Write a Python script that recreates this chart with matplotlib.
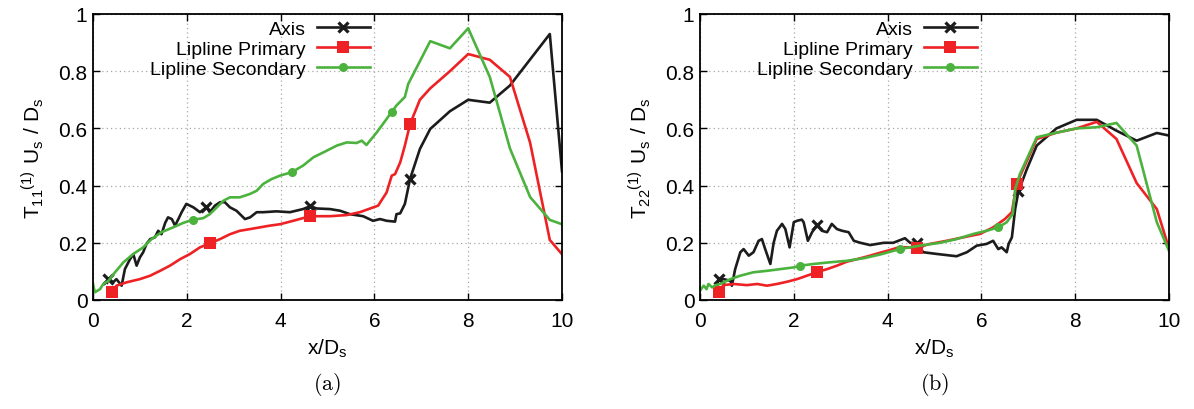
import numpy as np
import matplotlib
matplotlib.use('Agg')
import matplotlib.pyplot as plt
from matplotlib.lines import Line2D

plt.rcParams['font.family'] = ['Liberation Sans', 'DejaVu Sans']
plt.rcParams['font.size'] = 14

# ── data ─────────────────────────────────────────────────────────────────
# (a) T11
a_axis_x = [0.30, 0.33, 0.43, 0.50, 0.61, 0.68, 0.79, 0.86, 0.93, 1.00, 1.07, 1.14, 1.22, 1.32, 1.39,
            1.46, 1.54, 1.60, 1.68, 1.75, 1.82, 1.89, 1.99, 2.14, 2.28, 2.42, 2.49, 2.60, 2.71, 2.81,
            2.92, 3.06, 3.24, 3.35, 3.49, 3.63, 3.91, 4.20, 4.48, 4.63, 4.77, 5.05, 5.27, 5.48, 5.76,
            5.97, 6.12, 6.26, 6.44, 6.47, 6.55, 6.65, 6.76, 6.97, 7.19, 7.61, 8.00, 8.46, 8.89, 9.74, 10.0]
a_axis_y = [0.06, 0.075, 0.062, 0.073, 0.05, 0.108, 0.143, 0.16, 0.12, 0.149, 0.167, 0.196, 0.213, 0.219, 0.242,
            0.23, 0.27, 0.289, 0.283, 0.26, 0.283, 0.307, 0.336, 0.324, 0.307, 0.324, 0.307, 0.33, 0.342, 0.342,
            0.324, 0.312, 0.283, 0.289, 0.307, 0.307, 0.31, 0.307, 0.318, 0.328, 0.32, 0.318, 0.312, 0.30, 0.293,
            0.277, 0.283, 0.277, 0.274, 0.30, 0.303, 0.336, 0.423, 0.528, 0.598, 0.66, 0.70, 0.69, 0.75, 0.93, 0.45]

a_prim_x = [0.40, 0.50, 0.72, 1.00, 1.22, 1.43, 1.64, 1.86, 2.07, 2.28, 2.49, 2.71, 2.92, 3.13, 3.35,
            3.56, 3.77, 3.99, 4.27, 4.63, 5.05, 5.41, 5.69, 5.91, 6.08, 6.26, 6.37, 6.44, 6.55, 6.65,
            6.76, 6.97, 7.19, 7.61, 8.00, 8.46, 8.89, 9.32, 9.74, 10.0]
a_prim_y = [0.027, 0.05, 0.062, 0.073, 0.085, 0.102, 0.12, 0.143, 0.161, 0.184, 0.198, 0.213, 0.23, 0.242, 0.248,
            0.254, 0.26, 0.265, 0.277, 0.293, 0.293, 0.297, 0.307, 0.32, 0.33, 0.376, 0.435, 0.44, 0.481, 0.54,
            0.615, 0.70, 0.74, 0.80, 0.86, 0.84, 0.78, 0.55, 0.21, 0.16]

a_sec_x = [0.00, 0.04, 0.15, 0.22, 0.33, 0.47, 0.65, 0.86, 1.07, 1.25, 1.46, 1.71, 1.93, 2.14, 2.35,
           2.49, 2.64, 2.78, 2.92, 3.13, 3.35, 3.49, 3.63, 3.81, 3.99, 4.24, 4.48, 4.70, 4.91, 5.20,
           5.41, 5.62, 5.73, 5.83, 6.05, 6.26, 6.37, 6.47, 6.65, 6.72, 7.19, 7.61, 8.00, 8.46, 8.89,
           9.32, 9.74, 10.0]
a_sec_y = [0.056, 0.027, 0.038, 0.056, 0.067, 0.097, 0.132, 0.161, 0.184, 0.213, 0.237, 0.254, 0.27, 0.281, 0.286,
           0.30, 0.324, 0.347, 0.359, 0.359, 0.371, 0.382, 0.406, 0.423, 0.435, 0.447, 0.47, 0.499, 0.516, 0.54,
           0.551, 0.549, 0.557, 0.542, 0.586, 0.633, 0.658, 0.68, 0.71, 0.755, 0.905, 0.88, 0.95, 0.78, 0.53,
           0.36, 0.28, 0.265]

# (b) T22
b_axis_x = [0.36, 0.40, 0.50, 0.65, 0.68, 0.75, 0.86, 0.93, 1.04, 1.14, 1.25, 1.32, 1.39, 1.50, 1.57,
            1.64, 1.75, 1.82, 1.91, 2.00, 2.07, 2.17, 2.21, 2.30, 2.39, 2.49, 2.60, 2.71, 2.81, 2.92,
            3.03, 3.17, 3.28, 3.42, 3.63, 3.77, 3.92, 4.12, 4.37, 4.48, 4.62, 4.76, 5.05, 5.26, 5.47,
            5.69, 5.90, 6.11, 6.25, 6.36, 6.43, 6.54, 6.58, 6.65, 6.72, 6.79, 6.97, 7.18, 7.60, 8.03,
            8.46, 8.88, 9.31, 9.74, 10.0]
b_axis_y = [0.05, 0.073, 0.073, 0.067, 0.05, 0.108, 0.167, 0.178, 0.155, 0.167, 0.207, 0.213, 0.178, 0.126, 0.20,
            0.242, 0.266, 0.248, 0.184, 0.272, 0.277, 0.281, 0.272, 0.207, 0.237, 0.262, 0.242, 0.237, 0.266, 0.248,
            0.242, 0.237, 0.207, 0.20, 0.192, 0.196, 0.20, 0.20, 0.216, 0.20, 0.199, 0.167, 0.161, 0.157, 0.153,
            0.167, 0.19, 0.196, 0.207, 0.178, 0.184, 0.167, 0.196, 0.219, 0.318, 0.38, 0.458, 0.54, 0.60, 0.63,
            0.63, 0.592, 0.557, 0.584, 0.575]

b_prim_x = [0.40, 0.50, 0.72, 1.00, 1.22, 1.43, 1.64, 1.86, 2.07, 2.28, 2.49, 2.71, 2.92, 3.13, 3.35,
            3.56, 3.77, 3.99, 4.26, 4.62, 4.90, 5.26, 5.61, 5.97, 6.25, 6.50, 6.65, 6.75, 7.18, 7.60,
            8.03, 8.46, 8.88, 9.31, 9.74, 10.0]
b_prim_y = [0.027, 0.052, 0.056, 0.052, 0.056, 0.05, 0.056, 0.064, 0.073, 0.085, 0.097, 0.108, 0.12, 0.134, 0.143,
            0.152, 0.162, 0.172, 0.185, 0.183, 0.196, 0.207, 0.219, 0.231, 0.254, 0.283, 0.307, 0.406, 0.563, 0.585,
            0.60, 0.623, 0.563, 0.409, 0.318, 0.18]

b_sec_x = [0.00, 0.08, 0.14, 0.18, 0.26, 0.33, 0.43, 0.65, 0.86, 1.14, 1.43, 1.71, 2.00, 2.14, 2.42,
           2.78, 3.13, 3.49, 3.84, 4.26, 4.69, 5.12, 5.47, 5.83, 6.11, 6.36, 6.54, 6.67, 6.72, 6.82,
           7.18, 7.60, 8.03, 8.46, 8.88, 9.31, 9.74, 10.0]
b_sec_y = [0.033, 0.05, 0.038, 0.056, 0.044, 0.052, 0.056, 0.073, 0.085, 0.097, 0.102, 0.108, 0.114, 0.12, 0.126,
           0.132, 0.137, 0.146, 0.159, 0.178, 0.19, 0.20, 0.213, 0.231, 0.242, 0.254, 0.272, 0.301, 0.388, 0.44,
           0.569, 0.585, 0.60, 0.604, 0.619, 0.54, 0.272, 0.172]

# x-positions where the point markers sit
a_axis_marks = [0.33, 2.42, 4.63, 6.76]
a_prim_marks = [0.40, 2.49, 4.63, 6.76]
a_sec_marks = [2.14, 4.24, 6.37]
b_axis_marks = [0.40, 2.49, 4.62, 6.79]
b_prim_marks = [0.40, 2.49, 4.62, 6.75]
b_sec_marks = [2.14, 4.26, 6.36]

labels = ['Axis', 'Lipline Primary', 'Lipline Secondary']
xticks = [0, 2, 4, 6, 8, 10]
yticks = [0, 0.2, 0.4, 0.6, 0.8, 1.0]
ytick_labels = ['0', '0.2', '0.4', '0.6', '0.8', '1']

# ── styles ───────────────────────────────────────────────────────────────
BLACK, RED, GREEN = '#1c1c1c', '#ee2224', '#4cb23e'
LW = 1.9
styles = [
    dict(color=BLACK, marker='x', ms=7.5, mew=2.3),
    dict(color=RED, marker='s', ms=8, mew=0),
    dict(color=GREEN, marker='o', ms=6.5, mew=0),
]


def draw_series(ax, x, y, marks, st):
    x = np.asarray(x)
    y = np.asarray(y)
    ax.plot(x, y, color=st['color'], lw=LW)
    idx = [int(np.argmin(np.abs(x - m))) for m in marks]
    ax.plot(x[idx], y[idx], ls='none', color=st['color'], marker=st['marker'],
            ms=st['ms'], mew=st['mew'])


def style_axes(ax, ylabel):
    ax.set_xlim(0, 10)
    ax.set_ylim(0, 1)
    ax.set_xticks(xticks, [str(t) for t in xticks])
    ax.set_yticks(yticks, ytick_labels)
    ax.grid(True, ls=(0, (1, 2.5)), color='#a8a8a8', lw=0.9)
    ax.tick_params(direction='in', length=5, width=1.0, top=True, right=True,
                   labelsize=15)
    ax.tick_params(axis='x', pad=8)
    ax.tick_params(axis='y', pad=4)
    for sp in ax.spines.values():
        sp.set_linewidth(1.3)
    ax.set_xlabel(r'$\mathregular{x/D_s}$', fontsize=15, labelpad=5)
    ax.set_ylabel(ylabel, fontsize=15, labelpad=9)

    handles = [Line2D([], [], color=st['color'], lw=LW, marker=st['marker'],
                      ms=st['ms'], mew=st['mew']) for st in styles]
    ax.legend(handles, labels, loc='upper right', bbox_to_anchor=(0.59, 0.978),
              markerfirst=False, frameon=False, borderaxespad=0, borderpad=0,
              handlelength=2.7, handletextpad=0.6, labelspacing=0.12, fontsize=14)


fig = plt.figure(figsize=(11.94, 4.10), dpi=100)
ax1 = fig.add_axes([93 / 1194, 1 - 301 / 410, 469 / 1194, 286 / 410])
ax2 = fig.add_axes([700 / 1194, 1 - 301 / 410, 469 / 1194, 286 / 410])

draw_series(ax1, a_axis_x, a_axis_y, a_axis_marks, styles[0])
draw_series(ax1, a_prim_x, a_prim_y, a_prim_marks, styles[1])
draw_series(ax1, a_sec_x, a_sec_y, a_sec_marks, styles[2])
style_axes(ax1, r'$\mathregular{T_{11}{}^{(1)}\ U_s\ /\ D_s}$')

draw_series(ax2, b_axis_x, b_axis_y, b_axis_marks, styles[0])
draw_series(ax2, b_prim_x, b_prim_y, b_prim_marks, styles[1])
draw_series(ax2, b_sec_x, b_sec_y, b_sec_marks, styles[2])
style_axes(ax2, r'$\mathregular{T_{22}{}^{(1)}\ U_s\ /\ D_s}$')

# sub-captions
fig.text(327.5 / 1194, 1 - 385 / 410, r'$\mathrm{(a)}$', math_fontfamily='cm',
         fontsize=16, ha='center', va='center')
fig.text(934.5 / 1194, 1 - 385 / 410, r'$\mathrm{(b)}$', math_fontfamily='cm',
         fontsize=16, ha='center', va='center')

fig.savefig('out.png', dpi=100)
